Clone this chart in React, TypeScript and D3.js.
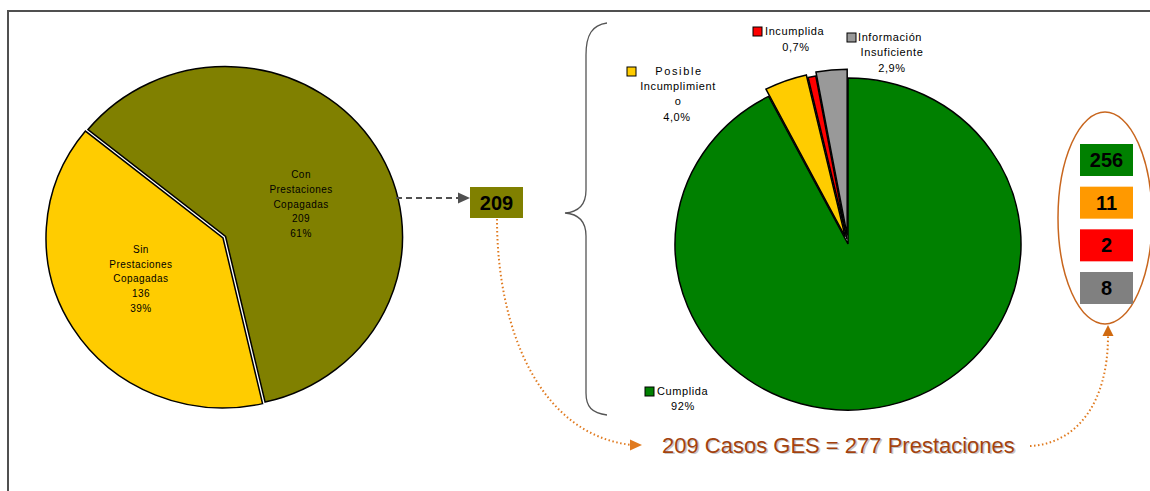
import React from "react";
import * as d3 from "d3";

// ---------- data ----------
const leftCategories = ["Con Prestaciones Copagadas", "Sin Prestaciones Copagadas"];
const leftValues = [209, 136];
const leftPercents = ["61%", "39%"];
const leftColors = ["#808000", "#FFCC00"];

const rightCategories = ["Cumplida", "Posible Incumplimiento", "Incumplida", "Información Insuficiente"];
const rightValues = [256, 11, 2, 8];
const rightPercents = ["92%", "4,0%", "0,7%", "2,9%"];
const rightColors = ["#008000", "#FFCC00", "#FF0000", "#999999"];
const boxColors = ["#008000", "#FF9900", "#FF0000", "#808080"];

const casesLabel = "209 Casos GES = 277 Prestaciones";

// ---------- layout ----------
const W = 1150;
const H = 491;
const LP = { cx: 223, cy: 238, r: 177, sy: 0.96, start: (-51 * Math.PI) / 180 };
const RP = { cx: 848, cy: 244, r: 173, sy: 0.96 };
const leftExplode = [3, 0];
const rightExplode = [0, 8, 5, 9];
const leftLabelNudge = [
  [0, 13],
  [-4, -6],
];

// legend label layout for right pie
const rightLabelLayout = [
  { sq: [645, 387], lines: [{ t: "Cumplida", x: 657, y: 395, a: "start" }, { t: "92%", x: 683, y: 410, a: "middle" }] },
  {
    sq: [627, 67],
    lines: [
      { t: "Posible", x: 679, y: 75, a: "middle", ls: 1.6 },
      { t: "Incumplimient", x: 678, y: 90, a: "middle" },
      { t: "o", x: 678, y: 105, a: "middle" },
      { t: "4,0%", x: 677, y: 121, a: "middle" },
    ],
  },
  { sq: [753, 27], lines: [{ t: "Incumplida", x: 765, y: 35, a: "start" }, { t: "0,7%", x: 796, y: 51, a: "middle" }] },
  {
    sq: [847, 33],
    lines: [
      { t: "Información", x: 858, y: 41, a: "start" },
      { t: "Insuficiente", x: 892, y: 56, a: "middle" },
      { t: "2,9%", x: 892, y: 72, a: "middle" },
    ],
  },
];

const font = "Liberation Sans, Arial, sans-serif";

export default function App() {
  const leftPie = d3
    .pie<number>()
    .sort(null)
    .startAngle(LP.start)
    .endAngle(LP.start + 2 * Math.PI)(leftValues);
  const leftArc = d3.arc<d3.PieArcDatum<number>>().innerRadius(0).outerRadius(LP.r);
  const leftLabelArc = d3.arc<d3.PieArcDatum<number>>().innerRadius(92).outerRadius(92);

  const rightPie = d3.pie<number>().sort(null).startAngle(0).endAngle(2 * Math.PI)(rightValues);
  const rightArc = d3.arc<d3.PieArcDatum<number>>().innerRadius(0).outerRadius(RP.r);

  const boxY = d3.scaleBand<number>().domain(d3.range(rightValues.length)).range([144, 304]).paddingInner(0.25);

  const off = (d: d3.PieArcDatum<number>, e: number) => {
    const m = (d.startAngle + d.endAngle) / 2;
    return [Math.sin(m) * e, -Math.cos(m) * e];
  };

  return (
    <svg
      width={W}
      height={H}
      style={{ position: "fixed", left: 0, top: 0, background: "#fff" }}
      fontFamily={font}
    >
      <rect width={W} height={H} fill="#fff" />
      {/* frame */}
      <path d={`M${W + 5},11 H8 V${H + 5}`} fill="none" stroke="#505050" strokeWidth={2} />

      {/* left pie */}
      <g transform={`translate(${LP.cx},${LP.cy}) scale(1,${LP.sy})`}>
        {leftPie.map((d, i) => {
          const [ox, oy] = off(d, leftExplode[i]);
          return (
            <path
              key={i}
              d={leftArc(d) || ""}
              transform={`translate(${ox},${oy})`}
              fill={leftColors[i]}
              stroke="#000"
              strokeWidth={1.5}
              vectorEffect="non-scaling-stroke"
            />
          );
        })}
      </g>
      {leftPie.map((d, i) => {
        const [lx, ly] = leftLabelArc.centroid(d);
        const words = leftCategories[i].split(" ");
        const lines = [...words, String(leftValues[i]), leftPercents[i]];
        const x = LP.cx + lx + leftLabelNudge[i][0];
        const y0 = LP.cy + ly * LP.sy + leftLabelNudge[i][1] - ((lines.length - 1) * 14.7) / 2;
        return (
          <text key={i} fontSize={10} letterSpacing={0.45} textAnchor="middle" fill="#000">
            {lines.map((t, j) => (
              <tspan key={j} x={x} y={y0 + j * 14.7 + 3.5}>
                {t}
              </tspan>
            ))}
          </text>
        );
      })}

      {/* dashed arrow to 209 box */}
      <line x1={396} y1={198} x2={459} y2={198} stroke="#505050" strokeWidth={2} strokeDasharray="6,4" />
      <path d="M458,192.5 L470,198 L458,203.5 Z" fill="#505050" />
      <rect x={470} y={187} width={53} height={31} fill={leftColors[0]} />
      <text x={496.5} y={210} textAnchor="middle" fontSize={20} fontWeight="bold" fill="#000">
        {leftValues[0]}
      </text>

      {/* brace */}
      <path
        d="M607,23 C592,25 586,35 586,55 L586,190 C586,205 578,212 565,213 C578,214 586,221 586,236 L586,393 C586,407 592,413 607,415"
        fill="none"
        stroke="#555"
        strokeWidth={1.3}
      />

      {/* right pie */}
      <g transform={`translate(${RP.cx},${RP.cy}) scale(1,${RP.sy})`}>
        {rightPie.map((d, i) => {
          const [ox, oy] = off(d, rightExplode[i]);
          return (
            <path
              key={i}
              d={rightArc(d) || ""}
              transform={`translate(${ox},${oy})`}
              fill={rightColors[i]}
              stroke="#000"
              strokeWidth={1.5}
              vectorEffect="non-scaling-stroke"
            />
          );
        })}
      </g>

      {/* right pie labels */}
      {rightLabelLayout.map((L, i) => (
        <g key={i}>
          <rect x={L.sq[0]} y={L.sq[1]} width={9} height={9} fill={rightColors[i]} stroke="#000" strokeWidth={1} />
          {L.lines.map((ln, j) => (
            <text
              key={j}
              x={ln.x}
              y={ln.y}
              textAnchor={ln.a as any}
              fontSize={11}
              letterSpacing={(ln as any).ls ?? 0.6}
              fill="#000"
            >
              {ln.t}
            </text>
          ))}
        </g>
      ))}
      <title>{rightCategories.map((c, i) => `${c} ${rightPercents[i]}`).join(", ")}</title>

      {/* orange dotted connectors */}
      <path
        d="M497,219 C497,330 540,435 632,445"
        fill="none"
        stroke="#E07A1F"
        strokeWidth={2}
        strokeDasharray="1.5,2.5"
      />
      <path d="M630,439.5 L642,445 L630,450.5 Z" fill="#E07A1F" />
      <path
        d="M1030,446 C1075,444 1108,405 1108,336"
        fill="none"
        stroke="#E07A1F"
        strokeWidth={2}
        strokeDasharray="1.5,2.5"
      />
      <path d="M1102.5,336 L1108,325 L1113.5,336 Z" fill="#D06A10" />

      {/* bottom text with shadow */}
      <text x={663.5} y={454} fontSize={22} fill="#c8c8c8">
        {casesLabel}
      </text>
      <text x={662} y={452.5} fontSize={22} fill="#A3420E">
        {casesLabel}
      </text>

      {/* ellipse with counts */}
      <ellipse cx={1105} cy={218} rx={47} ry={106} fill="none" stroke="#C8661E" strokeWidth={1.5} />
      {rightValues.map((v, i) => (
        <g key={i}>
          <rect x={1080} y={boxY(i)} width={53} height={boxY.bandwidth()} fill={boxColors[i]} />
          <text
            x={1106.5}
            y={(boxY(i) as number) + boxY.bandwidth() / 2 + 7}
            textAnchor="middle"
            fontSize={20}
            fontWeight="bold"
            fill="#000"
          >
            {v}
          </text>
        </g>
      ))}
    </svg>
  );
}
